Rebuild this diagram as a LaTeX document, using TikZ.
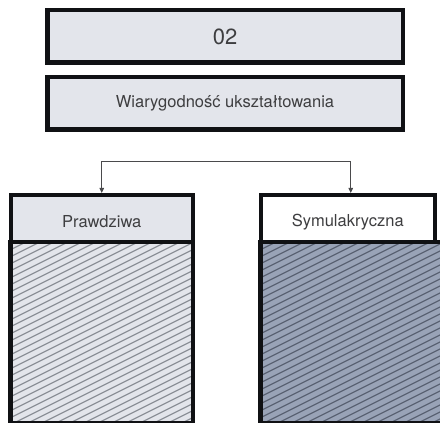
\documentclass[tikz,border=0pt]{standalone}
\usepackage{fontspec}
\setmainfont{TeX Gyre Heros}
\usetikzlibrary{arrows.meta}
\definecolor{lightfill}{HTML}{E3E5EB}
\definecolor{darkfill}{HTML}{99A3B7}
\definecolor{hatchlight}{HTML}{8C9098}
\definecolor{hatchdark}{HTML}{5A6273}
\definecolor{border}{HTML}{101114}
\definecolor{txt}{HTML}{3E3E40}
\definecolor{conncol}{HTML}{4A4A4C}
\tikzset{
  box/.style={draw=border, line width=4.5pt, minimum height=52.5pt, inner sep=0pt, text=txt, font=\fontsize{16.5}{18}\selectfont},
  conn/.style={draw=conncol, line width=0.8pt, {Triangle[length=5pt,width=4.5pt]}-{Triangle[length=5pt,width=4.5pt]}},
}
\begin{document}
\begin{tikzpicture}[x=1pt,y=1pt]
\useasboundingbox (0,0) rectangle (440,423);
% top boxes
\node[box, fill=lightfill, minimum width=355.5pt, font=\fontsize{22}{24}\selectfont] (b1) at (225,386.5) {02};
\node[box, fill=lightfill, minimum width=355.5pt] (b2) at (225,319.5) {Wiarygodność ukształtowania};
% category boxes
\node[box, fill=lightfill, minimum width=182pt, minimum height=53.5pt] (p) at (101.75,201) {Prawdziwa};
\node[box, fill=white, minimum width=174pt, minimum height=53.5pt] (s) at (347.75,201) {Symulakryczna};
% hatched boxes (fill)
\node[fill=lightfill, minimum width=182pt, minimum height=180.75pt, inner sep=0pt] (h1) at (101.75,90.375) {};
\node[fill=darkfill, minimum width=184.25pt, minimum height=180.75pt, inner sep=0pt] (h2) at (352.875,90.375) {};
% hatching
\begin{scope}
  \clip (h1.south west) rectangle (h1.north east);
  \foreach \j in {-196,-189,...,190}
    \draw[hatchlight, line width=1.2pt] (0,\j) -- ++(480,240);
\end{scope}
\begin{scope}
  \clip (h2.south west) rectangle (h2.north east);
  \foreach \j in {-203,-196,...,190}
    \draw[hatchdark, line width=1.2pt] (250,\j) -- ++(480,240);
\end{scope}
% borders of hatched boxes
\draw[border, line width=4.5pt] (h1.south west) rectangle (h1.north east);
\draw[border, line width=4.5pt] (h2.south west) rectangle (h2.north east);
% connector
\draw[conn] (p.north) -- ++(0,32) -| ([xshift=3pt]s.north);
\end{tikzpicture}
\end{document}
